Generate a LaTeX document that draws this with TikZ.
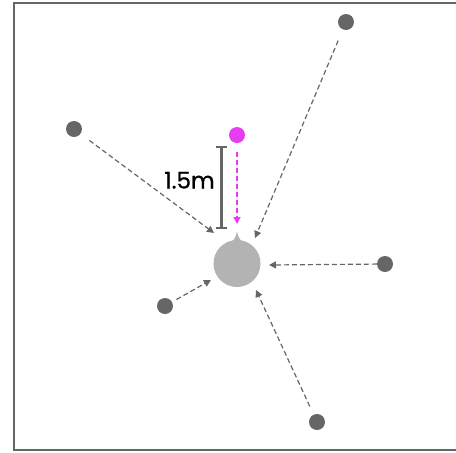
\documentclass[tikz,border=0pt]{standalone}
\usepackage{fontspec}
\setmainfont{Poppins}
\newfontfamily\labfont[FakeBold=0.8]{Poppins}
\usetikzlibrary{arrows.meta}
\definecolor{dotgray}{HTML}{666666}
\definecolor{hubgray}{HTML}{B3B3B3}
\definecolor{pink}{HTML}{E83CF0}
\begin{document}
\begin{tikzpicture}[x=1pt,y=-1pt,
  src/.style={circle,fill=dotgray,minimum size=16pt,inner sep=0pt},
  ray/.style={draw=dotgray,line width=1.2pt,dash pattern=on 5pt off 3pt,-{Triangle[length=7pt,width=7pt]}},
  pray/.style={draw=pink,line width=1.2pt,dash pattern=on 5pt off 3pt,-{Triangle[length=7pt,width=7pt]}}]
\useasboundingbox (0,0) rectangle (456,453);
\draw[dotgray,line width=2pt] (466,2.5) -- (13.5,2.5) -- (13.5,449.5) -- (466,449.5);
% hub
\fill[hubgray] (230,244) .. controls (234,240) and (236,237) .. (237,231.5) .. controls (238,237) and (240,240) .. (244,244) -- cycle;
\node[circle,fill=hubgray,minimum size=47pt,inner sep=0pt] (hub) at (237,263.5) {};
% sources
\node[src] (tr) at (346,22) {};
\node[src] (l) at (74,129) {};
\node[src] (r) at (385,264) {};
\node[src] (sl) at (165,306) {};
\node[src] (b) at (317,422) {};
\node[circle,fill=pink,minimum size=16pt,inner sep=0pt] (p) at (237,135) {};
% target points
\coordinate (tl) at (214,233);
\coordinate (ttr) at (255,238);
\coordinate (tr2) at (269,265);
\coordinate (tsl) at (211,280);
\coordinate (tb) at (256,290);
\coordinate (tp) at (237,224);
\draw[ray,shorten <=11pt] (l) -- (tl);
\draw[ray,shorten <=12pt] (tr) -- (ttr);
\draw[ray] (r) -- (tr2);
\draw[ray,shorten <=5pt] (sl) -- (tsl);
\draw[ray,shorten <=9pt] (b) -- (tb);
\draw[pray,shorten <=9pt] (p) -- (tp);
% scale bar
\coordinate (st) at (221.5,147);
\coordinate (sb) at (221.5,228);
\draw[dotgray,line width=2.4pt] (st) -- (sb);
\draw[dotgray,line width=2.2pt] ([xshift=-5.5pt]st) -- ([xshift=5.5pt]st);
\draw[dotgray,line width=2.2pt] ([xshift=-5.5pt]sb) -- ([xshift=5.5pt]sb);
\node[anchor=base,font=\labfont\fontsize{23}{25}\selectfont,inner sep=0pt] (lab) at (189.5,188.5) {1.5m};
\end{tikzpicture}
\end{document}
